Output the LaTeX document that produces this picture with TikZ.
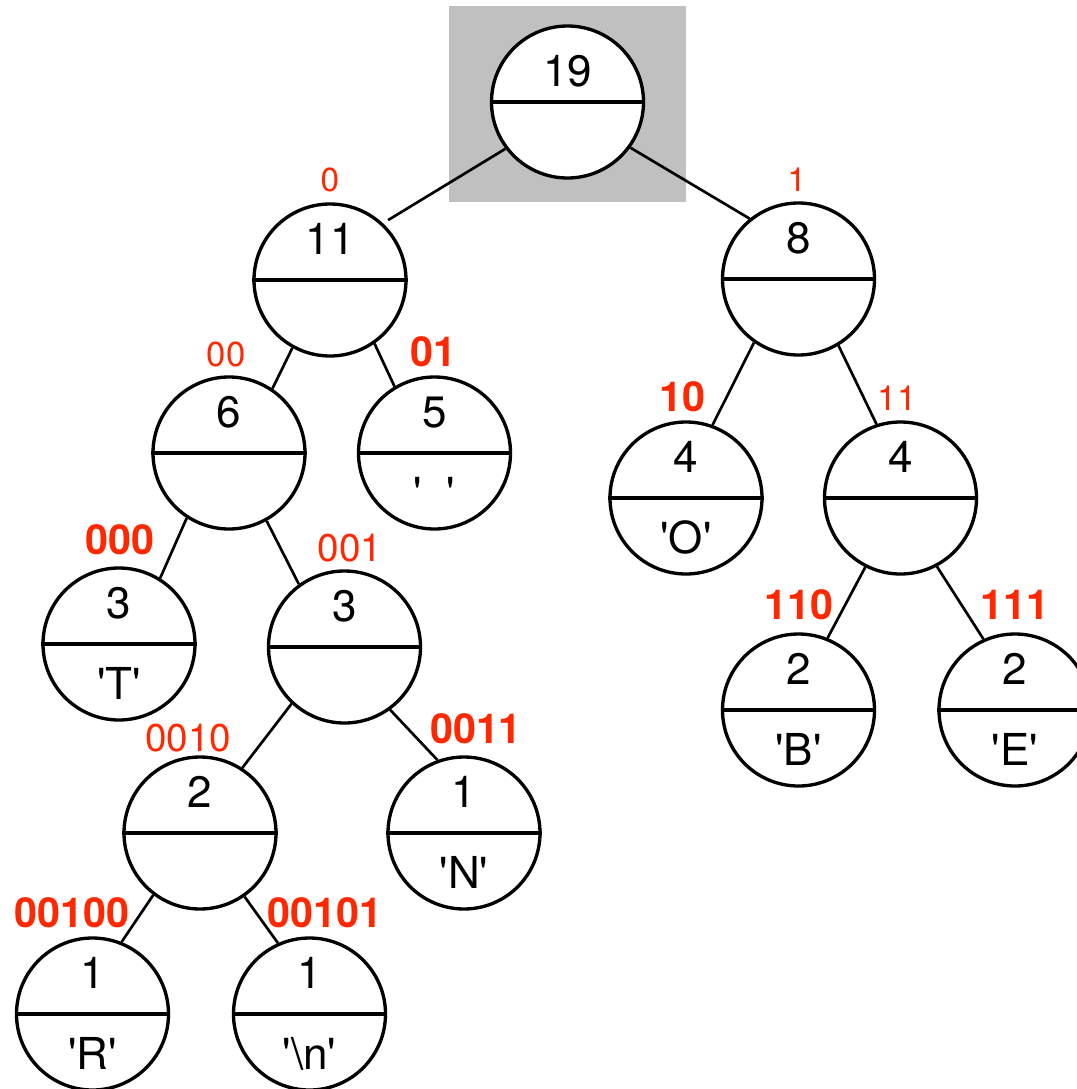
\documentclass[tikz,border=0pt]{standalone}
\usepackage{fontspec}
\setmainfont{TeX Gyre Heros}
\usetikzlibrary{calc}

\definecolor{codered}{RGB}{255,40,0}
\definecolor{rootgray}{RGB}{191,192,191}

\newcommand{\sq}{\textquotesingle}

\tikzset{
  hnode/.style={circle, draw, line width=2.5pt, minimum size=114pt, inner sep=0pt, fill=white},
  hline/.style={line width=2.4pt},
  link/.style={line width=2.0pt},
  cnt/.style={font=\fontsize{33}{36}\selectfont, anchor=base, inner sep=0pt},
  bitlabel/.style={text=codered, anchor=base, inner sep=0pt, font=\fontsize{#1}{#1}\selectfont},
  bitbold/.style={text=codered, anchor=base, inner sep=0pt, font=\fontsize{31}{33}\selectfont\bfseries},
}

% one Huffman tree node: name, x, y, weight, symbol
\newcommand{\hufnode}[5]{%
  \node[hnode] (#1) at (#2,#3) {};
  \draw[hline] (#1.west) -- (#1.east);
  \node[cnt] (#1-w) at ([yshift=19.5pt]#1.center) {#4};
  \node[cnt] (#1-s) at ([yshift=-41.25pt]#1.center) {#5};
}

\begin{document}
\begin{tikzpicture}[x=0.75pt,y=-0.75pt]
\useasboundingbox (0,0) rectangle (1077,1089);

% highlighted root
\fill[rootgray] (449,6) rectangle (686,202);

\node[hnode] (root) at (567.5,102) {};
\draw[hline] (root.west) -- (root.east);
\node[cnt] (root-w) at ([yshift=12pt]root.center) {19};

\hufnode{n11}{330}{280}{11}{}
\hufnode{n8}{798.5}{279}{8}{}
\hufnode{n6}{229}{453}{6}{}
\hufnode{n5}{434.5}{453}{5}{\sq\hspace{18.5pt}\sq}
\hufnode{nO}{686}{498}{4}{\sq O\sq}
\hufnode{nF}{900.5}{498}{4}{}
\hufnode{nT}{119}{644}{3}{\sq T\sq}
\hufnode{n3}{344.5}{647}{3}{}
\hufnode{nB}{798.5}{710}{2}{\sq B\sq}
\hufnode{nE}{1015}{710}{2}{\sq E\sq}
\hufnode{n2}{200}{833}{2}{}
\hufnode{nN}{464}{833}{1}{\sq N\sq}
\hufnode{nR}{92.5}{1014}{1}{\sq R\sq}
\hufnode{nL}{309.5}{1014}{1}{\sq\textbackslash n\sq}

% tree edges
\draw[link, shorten >=4.5pt] (root.217) -- (n11.47);
\draw[link] (root.324) -- (n8.129);
\draw[link] (n11.241) -- (n6.56);
\draw[link] (n11.305) -- (n5.121);
\draw[link] (n8.235) -- (nO.70);
\draw[link] (n8.301) -- (nF.108);
\draw[link] (n6.237) -- (nT.58);
\draw[link] (n6.299) -- (n3.126);
\draw[link] (n3.227) -- (n2.57);
\draw[link] (n3.306) -- (nN.110);
\draw[link] (nF.243) -- (nB.68);
\draw[link] (nF.298) -- (nE.114);
\draw[link] (n2.233) -- (nR.68);
\draw[link] (n2.305) -- (nL.114);

% code words
\node[bitlabel=25] (c0) at (330,191) {0};
\node[bitlabel=25] (c1) at (797,191) {1};
\node[bitlabel=26] (c00) at (226,366) {00};
\node[bitbold] (c01) at (433,366) {01};
\node[bitbold] (c10) at (682,411) {10};
\node[bitlabel=26] (c11) at (897,410) {11};
\node[bitbold] (c000) at (120,554) {000};
\node[bitlabel=29] (c001) at (350,561) {001};
\node[bitbold] (c110) at (799,619) {110};
\node[bitbold] (c111) at (1015,619) {111};
\node[bitlabel=29] (c0010) at (188,751) {0010};
\node[bitbold] (c0011) at (476,743) {0011};
\node[bitbold] (c00100) at (72,927) {00100};
\node[bitbold] (c00101) at (325,927) {00101};
\end{tikzpicture}
\end{document}
